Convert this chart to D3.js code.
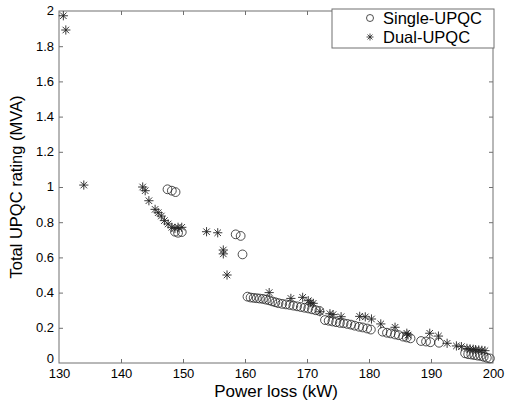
<!DOCTYPE html>
<html>
<head>
<meta charset="utf-8">
<script src="https://cdn.jsdelivr.net/npm/d3@7"></script>
<style>
	body { margin: 0; background: #fff; }
	svg { display: block; font-family: "Liberation Sans", Arial, sans-serif; }
</style>
</head>
<body>
<div id="chart"></div>
<script>
'use strict';

// Single-UPQC (circles)
const singleLoss = [
	147.5, 148.2, 148.8, 148.7, 149.2, 149.8, 158.5, 159.3, 159.6,
	160.4, 160.9, 161.4, 161.9, 162.4, 162.9, 163.4, 163.9, 164.4, 164.9, 165.4,
	166.0, 166.6, 167.2, 167.8, 168.4, 169.0, 169.6, 170.2, 170.8, 171.4, 172.0,
	172.9, 173.5, 174.1, 174.7, 175.3, 175.9, 176.5, 177.1, 177.7, 178.4, 179.0, 179.7, 180.3,
	182.2, 182.9, 183.5, 184.2, 184.8, 185.5, 186.1, 186.7,
	188.4, 189.2, 189.9, 191.3,
	195.5, 196.0, 196.5, 197.0, 197.5, 198.0, 198.5, 199.0, 199.5
];
const singleRating = [
	0.987, 0.979, 0.971, 0.746, 0.740, 0.744, 0.731, 0.722, 0.617,
	0.377, 0.372, 0.370, 0.368, 0.366, 0.364, 0.360, 0.356, 0.350, 0.345, 0.340,
	0.336, 0.333, 0.330, 0.326, 0.322, 0.318, 0.314, 0.310, 0.305, 0.300, 0.296,
	0.244, 0.240, 0.236, 0.232, 0.228, 0.226, 0.222, 0.218, 0.212, 0.206, 0.202, 0.196, 0.190,
	0.178, 0.172, 0.168, 0.162, 0.158, 0.150, 0.145, 0.140,
	0.125, 0.122, 0.118, 0.115,
	0.055, 0.050, 0.048, 0.045, 0.042, 0.040, 0.035, 0.030, 0.026
];

// Dual-UPQC (stars)
const dualLoss = [
	130.7, 131.1, 134.0,
	143.5, 143.9, 144.5, 145.5, 146.0, 146.5, 147.0, 147.6, 148.2, 148.7, 149.2, 149.8,
	153.8, 155.6, 156.5, 156.5, 157.1,
	163.9, 167.4, 169.3, 170.2, 170.6, 171.0, 172.1, 173.7, 174.2, 175.5,
	178.5, 179.4, 180.4, 181.9, 184.2, 186.1, 186.3, 189.8, 191.2, 192.6,
	194.1, 194.9, 195.8, 196.3, 196.8, 197.2, 197.7, 198.2, 198.7
];
const dualRating = [
	1.973, 1.892, 1.011,
	1.000, 0.979, 0.922, 0.873, 0.854, 0.835, 0.809, 0.790, 0.771, 0.765, 0.771, 0.771,
	0.746, 0.740, 0.642, 0.620, 0.500,
	0.400, 0.367, 0.373, 0.354, 0.343, 0.339, 0.291, 0.280, 0.275, 0.263,
	0.265, 0.262, 0.250, 0.222, 0.203, 0.169, 0.159, 0.169, 0.153, 0.112,
	0.097, 0.093, 0.083, 0.080, 0.078, 0.076, 0.074, 0.072, 0.070
];

const xTicks = [130, 140, 150, 160, 170, 180, 190, 200];
const yTicks = [0, 0.2, 0.4, 0.6, 0.8, 1, 1.2, 1.4, 1.6, 1.8, 2];
const seriesNames = ["Single-UPQC", "Dual-UPQC"];

const WIDTH = 505;
const HEIGHT = 404;
const AXIS_COLOR = "#707070";
const MARK_COLOR = "#222";
const TICK_LEN = 4;

const margin = { left: 59, right: 12, top: 11, bottom: 41 };

const svg = d3.select("#chart").append("svg")
	.attr("width", WIDTH)
	.attr("height", HEIGHT);

const x = d3.scaleLinear().domain([130, 200]).range([margin.left, WIDTH - margin.right]);
const y = d3.scaleLinear().domain([0, 2]).range([HEIGHT - margin.bottom, margin.top]);

const [x0, x1] = x.range();
const [y0, y1] = y.range();

// MATLAB style: inward ticks on all four sides
function tickFmt(d) {
	return d === 0 ? "0" : d3.format("~g")(d);
}

svg.append("g")
	.attr("transform", `translate(0,${y0})`)
	.call(d3.axisBottom(x).tickValues(xTicks).tickSizeInner(-TICK_LEN).tickSizeOuter(0).tickPadding(6).tickFormat(d3.format("d")))
	.call(g => g.selectAll("text").attr("font-size", 13).attr("fill", "#000"));

svg.append("g")
	.attr("transform", `translate(0,${y1})`)
	.call(d3.axisTop(x).tickValues(xTicks).tickSizeInner(-TICK_LEN).tickSizeOuter(0).tickFormat(""));

svg.append("g")
	.attr("transform", `translate(${x0},0)`)
	.call(d3.axisLeft(y).tickValues(yTicks).tickSizeInner(-TICK_LEN).tickSizeOuter(0).tickPadding(5).tickFormat(tickFmt))
	.call(g => g.selectAll("text").attr("font-size", 13).attr("fill", "#000")
		.attr("dy", d => d === 0 ? "-0.05em" : "0.3em"));

svg.append("g")
	.attr("transform", `translate(${x1},0)`)
	.call(d3.axisRight(y).tickValues(yTicks).tickSizeInner(-TICK_LEN).tickSizeOuter(0).tickFormat(""));

svg.selectAll(".domain").remove();
svg.selectAll(".tick line").attr("stroke", AXIS_COLOR);
svg.selectAll(".tick:first-of-type line, .tick:last-of-type line").remove();

svg.append("rect")
	.attr("x", x0).attr("y", y1)
	.attr("width", x1 - x0).attr("height", y0 - y1)
	.attr("fill", "none")
	.attr("stroke", AXIS_COLOR)
	.attr("stroke-width", 1);

// axis titles
svg.append("text")
	.attr("x", (x0 + x1) / 2)
	.attr("y", 397)
	.attr("text-anchor", "middle")
	.attr("font-size", 17)
	.text("Power loss (kW)");

svg.append("text")
	.attr("transform", `translate(22,${(y0 + y1) / 2}) rotate(-90)`)
	.attr("text-anchor", "middle")
	.attr("font-size", 16.5)
	.text("Total UPQC rating (MVA)");

// markers
function star(g, r) {
	const d = r * Math.SQRT1_2;
	g.append("line").attr("x1", -r).attr("x2", r).attr("y1", 0).attr("y2", 0);
	g.append("line").attr("x1", 0).attr("x2", 0).attr("y1", -r).attr("y2", r);
	g.append("line").attr("x1", -d).attr("x2", d).attr("y1", -d).attr("y2", d);
	g.append("line").attr("x1", -d).attr("x2", d).attr("y1", d).attr("y2", -d);
}

const gMarks = svg.append("g");

gMarks.append("g")
	.attr("fill", "none")
	.attr("stroke", MARK_COLOR)
	.attr("stroke-width", 0.8)
	.selectAll("circle")
	.data(singleLoss.map((v, i) => [v, singleRating[i]]))
	.join("circle")
		.attr("cx", d => x(d[0]))
		.attr("cy", d => y(d[1]))
		.attr("r", 4.4);

gMarks.append("g")
	.attr("stroke", MARK_COLOR)
	.attr("stroke-width", 0.9)
	.selectAll("g")
	.data(dualLoss.map((v, i) => [v, dualRating[i]]))
	.join("g")
		.attr("transform", d => `translate(${x(d[0])},${y(d[1])})`)
		.each(function() { star(d3.select(this), 4.6); });

// legend
const legend = svg.append("g");
legend.append("rect")
	.attr("x", 332).attr("y", 9)
	.attr("width", x1 - 332 + 1).attr("height", 39)
	.attr("fill", "#fff")
	.attr("stroke", AXIS_COLOR);

seriesNames.forEach((name, i) => {
	const cy = 18 + i * 19;
	const item = legend.append("g").attr("transform", `translate(370,${cy})`);
	if (i === 0) {
		item.append("circle").attr("r", 3.5).attr("fill", "none").attr("stroke", MARK_COLOR).attr("stroke-width", 0.8);
	} else {
		const s = item.append("g").attr("stroke", MARK_COLOR).attr("stroke-width", 0.8);
		star(s, 3.5);
	}
	legend.append("text")
		.attr("x", 383)
		.attr("y", cy)
		.attr("dy", "0.36em")
		.attr("font-size", 16.5)
		.text(name);
});
</script>
</body>
</html>
